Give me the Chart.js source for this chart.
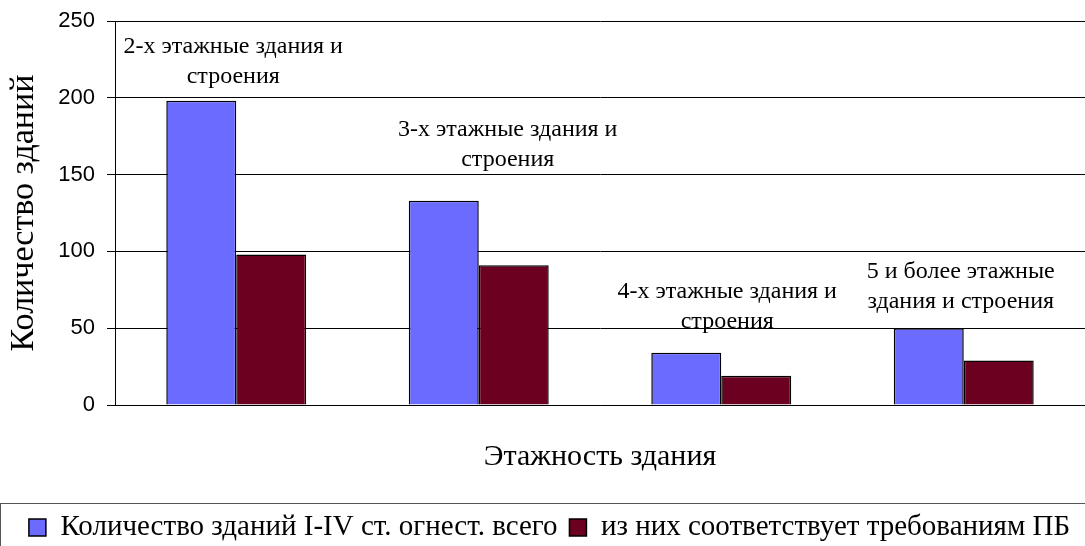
<!DOCTYPE html>
<html>
<head>
<meta charset="utf-8">
<script src="https://cdn.jsdelivr.net/npm/chart.js@4"></script>
<style>
  html, body { margin: 0; padding: 0; background: #fff; overflow: hidden; }
  #wrap { width: 1085px; height: 546px; }
</style>
</head>
<body>
<div id="wrap"><canvas id="floorsChart"></canvas></div>
<script>
// Данные диаграммы
const categories = [
  ['2-х этажные здания и', 'строения'],
  ['3-х этажные здания и', 'строения'],
  ['4-х этажные здания и', 'строения'],
  ['5 и более этажные', 'здания и строения']
];
const totalBuildings = [198, 133, 34, 50];   // Количество зданий I-IV ст. огнест. всего
const compliantBuildings = [98, 91, 19, 29]; // из них соответствует требованиям ПБ
const yTicks = [0, 50, 100, 150, 200, 250];

const serif = "'Liberation Serif', 'Times New Roman', serif";
const sans = "'Liberation Sans', Arial, sans-serif";
const plotBottom = 405;
const bottomPad = -6;

// подписи категорий над столбцами (как текстовые блоки в исходнике)
const categoryLabels = {
  id: 'categoryLabels',
  afterDatasetsDraw(chart, args, opts) {
    const { ctx, scales: { x, y } } = chart;
    ctx.save();
    ctx.font = '24px ' + serif;
    ctx.fillStyle = '#000';
    ctx.textAlign = 'center';
    ctx.textBaseline = 'middle';
    categories.forEach((lines, i) => {
      const cx = x.getPixelForValue(i) + opts.dx[i];
      const top = y.getPixelForValue(opts.at[i]);
      lines.forEach((t, j) => ctx.fillText(t, cx, top + j * 30));
    });
    ctx.restore();
  }
};

// рамка вокруг легенды
const legendFrame = {
  id: 'legendFrame',
  afterDraw(chart) {
    const box = chart.legend.legendHitBoxes[0];
    const top = Math.round(box.top + box.height / 2 - 25) + 0.5;
    const ctx = chart.ctx;
    ctx.save();
    ctx.strokeStyle = '#555';
    ctx.lineWidth = 1;
    ctx.strokeRect(0.5, top, chart.width + 20, chart.height);
    ctx.restore();
  }
};

const ctx = document.getElementById('floorsChart').getContext('2d');
const floorsChart = new Chart(ctx, {
  type: 'bar',
  data: {
    labels: categories.map(c => c.join(' ')),
    datasets: [{
      label: 'Количество зданий I-IV ст. огнест. всего',
      data: totalBuildings,
      backgroundColor: '#6b6bff',
      borderColor: '#000',
      borderWidth: 1.5
    }, {
      label: 'из них соответствует требованиям ПБ',
      data: compliantBuildings,
      backgroundColor: '#6b0020',
      borderColor: '#000',
      borderWidth: 1.5
    }]
  },
  options: {
    responsive: true,
    maintainAspectRatio: false,
    animation: false,
    categoryPercentage: 0.577,
    barPercentage: 1,
    layout: { padding: { top: 21, right: -14, left: 0, bottom: bottomPad } },
    plugins: {
      tooltip: { enabled: false },
      legend: {
        position: 'bottom',
        labels: {
          font: { family: serif, size: 29 },
          color: '#000',
          boxWidth: 17,
          boxHeight: 17,
          padding: 12
        }
      },
      categoryLabels: {
        at: [233, 179, 74, 87],
        dx: [-3, 29, 6, -3]
      }
    },
    scales: {
      x: {
        grid: { display: false },
        border: { display: true, color: '#000' },
        ticks: { display: false },
        title: {
          display: true,
          text: 'Этажность здания',
          font: { family: serif, size: 30 },
          color: '#000',
          padding: { top: 0, bottom: 26 }
        },
        afterFit(s) {
          s.height = s.chart.height - bottomPad - plotBottom - s.chart.legend.height;
        }
      },
      y: {
        min: 0,
        max: 250,
        afterBuildTicks(s) { s.ticks = yTicks.map(v => ({ value: v })); },
        grid: { color: '#000', tickLength: 8, tickColor: '#000' },
        border: { display: true, color: '#000' },
        ticks: {
          font: { family: sans, size: 22 },
          color: '#000',
          padding: 12
        },
        title: {
          display: true,
          text: 'Количество зданий',
          font: { family: serif, size: 34 },
          color: '#000',
          padding: { top: 4, bottom: 0 }
        },
        afterFit(s) {
          s.width = 115;
          s.paddingTop = 0;
          s.paddingBottom = 0;
        }
      }
    }
  },
  plugins: [categoryLabels, legendFrame]
});
</script>
</body>
</html>
